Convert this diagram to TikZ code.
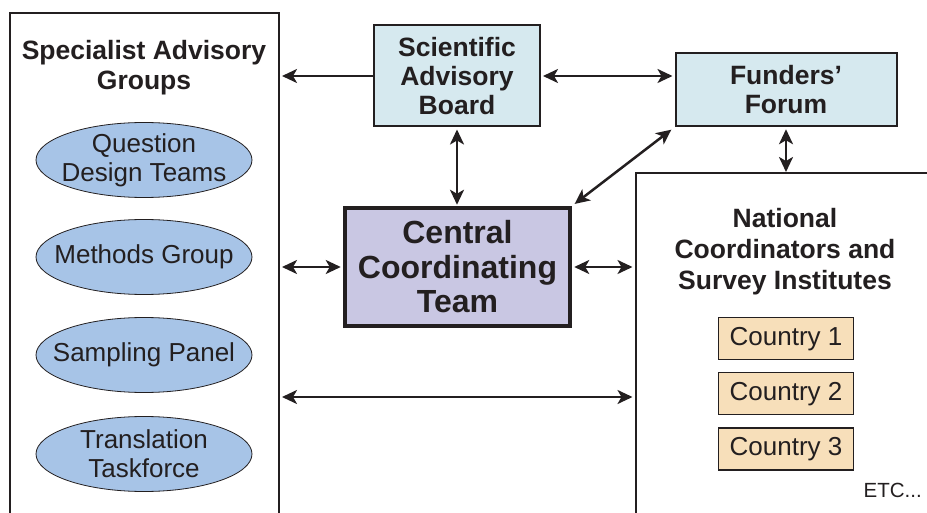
\documentclass[tikz,border=0pt]{standalone}
\usepackage{fontspec}
\setmainfont{Liberation Sans}
\usetikzlibrary{arrows.meta,shapes.geometric,calc}
\definecolor{ink}{HTML}{231F20}
\definecolor{sabfill}{HTML}{D6E9EF}
\definecolor{ccfill}{HTML}{C9C7E3}
\definecolor{ellfill}{HTML}{A7C4E7}
\definecolor{ctyfill}{HTML}{F7DFBA}
\tikzset{
  bigbox/.style={draw=ink, line width=2pt, fill=white, inner sep=0pt},
  bluebox/.style={draw=ink, line width=2pt, fill=sabfill, inner sep=0pt, align=center,
    font=\fontsize{26.5}{29}\selectfont\bfseries, text=ink},
  ccbox/.style={draw=ink, line width=4.5pt, fill=ccfill, inner sep=0pt, align=center,
    font=\fontsize{32}{34.5}\selectfont\bfseries, text=ink},
  group/.style={ellipse, draw=ink, line width=0.8pt, fill=ellfill, inner sep=0pt,
    minimum width=216pt, minimum height=75pt},
  grouptext/.style={align=center, inner sep=0pt, font=\fontsize{26}{29}\selectfont, text=ink},
  country/.style={draw=ink, line width=1.2pt, fill=ctyfill, inner sep=0pt,
    minimum width=135pt, minimum height=42pt, font=\fontsize{26}{29}\selectfont, text=ink},
  title/.style={align=center, font=\fontsize{26.5}{30}\selectfont\bfseries, text=ink, inner sep=0pt},
  link/.style={draw=ink, line width=2.5pt, {Stealth[length=15pt,width=14pt,inset=4pt]}-{Stealth[length=15pt,width=14pt,inset=4pt]}},
  onelink/.style={draw=ink, line width=2.5pt, -{Stealth[length=15pt,width=14pt,inset=4pt]}}
}
\begin{document}
\begin{tikzpicture}[x=1pt,y=-1pt]
\useasboundingbox (0,0) rectangle (927,513);
% big open boxes
\node[bigbox, minimum width=269pt, minimum height=560pt] (sag) at (144.5,293) {};
\node[bigbox, minimum width=340pt, minimum height=400pt] (nat) at (805.5,373) {};
% titles
\node[title] (sagt) at (144,68) {Specialist Advisory\\Groups};
\node[title, font=\fontsize{26.5}{31}\selectfont\bfseries] (natt) at (785,252) {National\\Coordinators and\\Survey Institutes};
% groups
\node[group] (q) at (144,160) {};
\node[grouptext] (qt) at (q.center) {Question\\Design Teams};
\node[group] (m) at (144,257) {};
\node[grouptext] (mt) at (m.center) {Methods Group};
\node[group] (s) at (144,355) {};
\node[grouptext] (st) at (s.center) {Sampling Panel};
\node[group] (t) at (144,454) {};
\node[grouptext] (tt) at (t.center) {Translation\\Taskforce};
% boards
\node[bluebox, minimum width=166pt, minimum height=101pt] (sab) at (457,76) {Scientific\\Advisory\\Board};
\node[bluebox, minimum width=221pt, minimum height=73.5pt] (ff) at (786,89.5) {Funders’\\Forum};
\node[ccbox, minimum width=225pt, minimum height=118pt] (cc) at (457.5,267) {Central\\Coordinating\\Team};
% countries
\node[country] (c1) at (786,338.7) {Country 1};
\node[country] (c2) at (786,393.7) {Country 2};
\node[country] (c3) at (786,449) {Country 3};
\node[anchor=east, inner sep=0pt, font=\fontsize{20.5}{24}\selectfont, text=ink] (etc) at (922,490) {ETC...};
% connectors
\draw[onelink, shorten >=2pt] (sab.west) -- (sab.west -| sag.east);
\draw[link, shorten <=2pt, shorten >=2pt] (sab.east) -- (sab.east -| ff.west);
\draw[link, shorten <=2pt, shorten >=1pt] (sab.south) -- (sab.south |- cc.north);
\draw[link, shorten <=3pt, shorten >=4pt] (cc.north east) -- (ff.south west);
\draw[link, shorten <=2pt, shorten >=0pt] (ff.south) -- (ff.south |- nat.north);
\draw[link, shorten <=2pt, shorten >=2pt] (cc.west) -- (cc.west -| sag.east);
\draw[link, shorten <=2pt, shorten >=2pt] (cc.east) -- (cc.east -| nat.west);
\draw[link, shorten <=2pt, shorten >=2pt] (sag.east |- 0,397) -- (nat.west |- 0,397);
\end{tikzpicture}
\end{document}
